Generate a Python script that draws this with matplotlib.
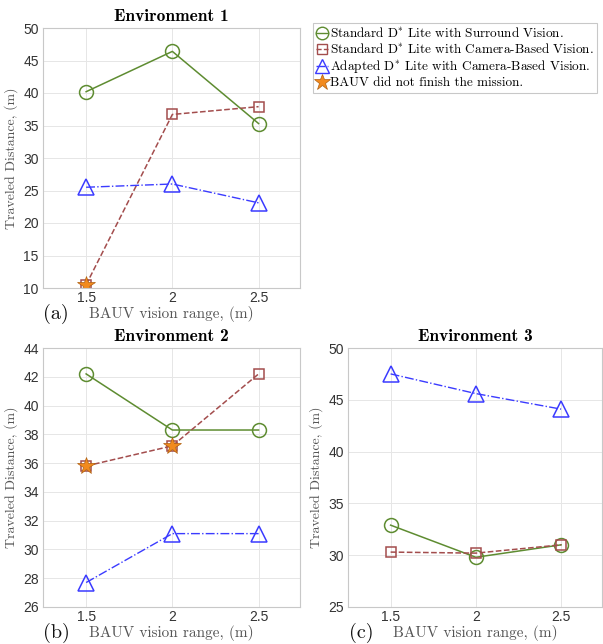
import matplotlib
matplotlib.use("Agg")
import matplotlib.pyplot as plt
from matplotlib.lines import Line2D

plt.rcParams['mathtext.fontset'] = 'cm'
plt.rcParams['font.family'] = ['Liberation Sans', 'DejaVu Sans']

# data
vision = [1.5, 2.0, 2.5]
env_titles = ['Environment 1', 'Environment 2', 'Environment 3']
panel_tags = ['(a)', '(b)', '(c)']
ylims = [(10, 50), (26, 44), (25, 50)]
yticks = [list(range(10, 51, 5)), list(range(26, 45, 2)), list(range(25, 51, 5))]

surround = [[40.2, 46.4, 35.3], [42.2, 38.3, 38.3], [32.9, 29.8, 31.0]]
camera = [[10.5, 36.7, 37.9], [35.8, 37.2, 42.2], [30.3, 30.2, 31.0]]
adapted = [[25.5, 26.0, 23.1], [27.7, 31.1, 31.1], [47.5, 45.6, 44.1]]
# camera-based points where the mission was not finished (index of vision)
not_finished = [[0], [0, 1], []]

legend_labels = ['Standard D$^{*}$ Lite with Surround Vision.',
                 'Standard D$^{*}$ Lite with Camera-Based Vision.',
                 'Adapted D$^{*}$ Lite with Camera-Based Vision.',
                 'BAUV did not finish the mission.']

green = '#5e8c31'
red = '#a34d4d'
blue = '#3b3bff'
orange = '#f28a1e'

fig = plt.figure(figsize=(6.03, 6.44), dpi=100)
W, H = 603, 644
boxes = [(43, 28, 300, 288), (43, 348, 300, 607), (348, 348, 602, 607)]

for i, (x0, y0, x1, y1) in enumerate(boxes):
    ax = fig.add_axes([x0 / W, 1 - y1 / H, (x1 - x0) / W, (y1 - y0) / H])
    ax.plot(vision, surround[i], '-', color=green, lw=1.1, marker='o', ms=10,
            mfc='none', mec=green, mew=1.1)
    ax.plot(vision, camera[i], '--', color=red, lw=1.1, marker='s', ms=7.5,
            mfc='none', mec=red, mew=1.1)
    ax.plot(vision, adapted[i], '-.', color=blue, lw=1.0, marker='^', ms=11,
            mfc='none', mec=blue, mew=1.1)
    for k in not_finished[i]:
        ax.plot(vision[k], camera[i][k], marker='*', ms=13, color=orange,
                mec='#b06010', mew=0.5, ls='none')
    ax.set_xlim(1.25, 2.74)
    ax.set_ylim(*ylims[i])
    ax.set_xticks(vision)
    ax.set_xticklabels(['1.5', '2', '2.5'])
    ax.set_yticks(yticks[i])
    ax.grid(True, color='#e6e6e6', lw=0.7)
    ax.set_axisbelow(True)
    for s in ax.spines.values():
        s.set_color('#c8c8c8')
        s.set_linewidth(0.8)
    ax.tick_params(length=0, labelsize=10, colors='#333333', pad=3)
    ax.tick_params(axis='x', pad=2)
    ax.set_title(env_titles[i], family='cmb10', fontsize=12.5, pad=5)
    ax.set_ylabel('Traveled Distance, (m)', family='cmr10', fontsize=10,
                  color='#555555', labelpad=4)
    # panel tag and x label
    xc = (x0 + x1) / 2
    ty = y1 + 26
    fig.text(xc / W, 1 - ty / H, 'BAUV vision range, (m)', family='cmr10',
             fontsize=11, color='#555555', ha='center', va='center')
    fig.text((x0 + 13) / W, 1 - ty / H, panel_tags[i], family='cmr10',
             fontsize=14.5, color='#111111', ha='center', va='center')

handles = [
    Line2D([], [], color=green, ls='-', marker='o', ms=9, mfc='none', lw=1),
    Line2D([], [], color=red, ls='--', marker='s', ms=7, mfc='none', lw=1),
    Line2D([], [], color=blue, ls='-.', marker='^', ms=10, mfc='none', lw=1),
    Line2D([], [], color=orange, ls='none', marker='*', ms=12, mec='#b06010', mew=0.5),
]
leg = fig.legend(handles, legend_labels, loc='upper left',
                 bbox_to_anchor=(313 / W, 1 - 23 / H),
                 prop={'family': 'cmr10', 'size': 9.5}, handlelength=0.9,
                 handletextpad=0.15, labelspacing=0.15, borderpad=0.25,
                 fancybox=False, edgecolor='#bbbbbb', borderaxespad=0)
leg.get_frame().set_linewidth(0.8)

fig.savefig('out.png', dpi=100)
